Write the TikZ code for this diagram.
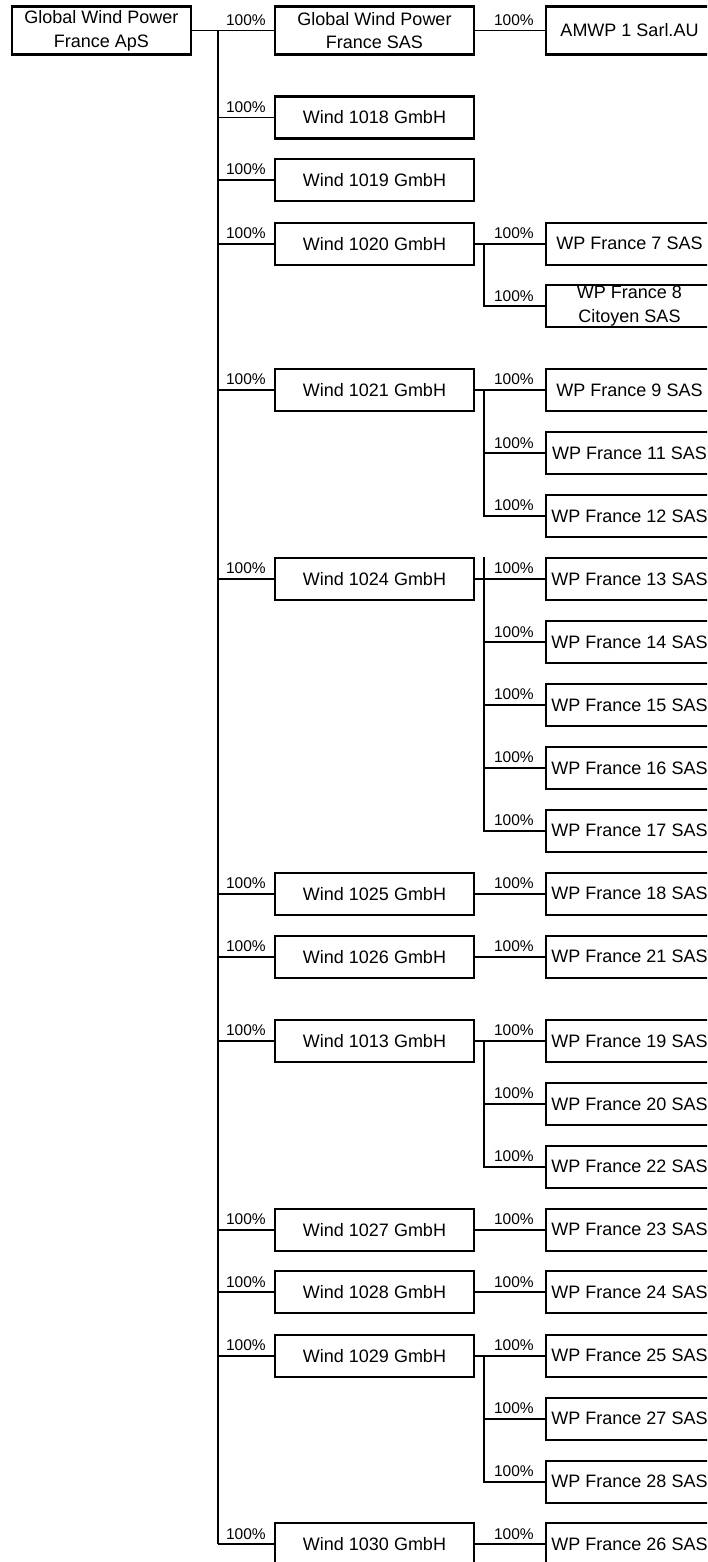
\documentclass[tikz,border=0pt]{standalone}
\usepackage{fontspec}
\setmainfont{Liberation Sans}
\begin{document}
\begin{tikzpicture}[x=1pt,y=-1pt,
  box/.style={draw, line width=2.2pt, minimum height=42pt, inner sep=0pt, align=center,
              font=\fontsize{18}{23.7}\selectfont},
  topbox/.style={box, minimum height=48pt},
  lone/.style={box, minimum width=199pt},
  ltwo/.style={box, minimum width=167pt},
  pct/.style={anchor=base, inner sep=0pt, font=\fontsize{15.5}{18}\selectfont},
  conn/.style={line width=1.9pt}]
\useasboundingbox (0,0) rectangle (707,1562);
\clip (0,0) rectangle (707,1562);

% ---------- boxes ----------
\node[topbox, minimum width=179pt] (root) at (101.3,30.5) {Global Wind Power\\France ApS};
\node[lone, topbox] (gwps) at (374.5,30.5) {Global Wind Power\\France SAS};
\node[ltwo, topbox] (amwp) at (629.5,30.5) {AMWP 1 Sarl.AU};

\node[lone] (w1018) at (374.5,117.5)  {Wind 1018 GmbH};
\node[lone] (w1019) at (374.5,180.3)  {Wind 1019 GmbH};
\node[lone] (w1020) at (374.5,243.7)  {Wind 1020 GmbH};
\node[lone] (w1021) at (374.5,390)    {Wind 1021 GmbH};
\node[lone] (w1024) at (374.5,579)    {Wind 1024 GmbH};
\node[lone] (w1025) at (374.5,893.7)  {Wind 1025 GmbH};
\node[lone] (w1026) at (374.5,956.7)  {Wind 1026 GmbH};
\node[lone] (w1013) at (374.5,1041)   {Wind 1013 GmbH};
\node[lone] (w1027) at (374.5,1229.7) {Wind 1027 GmbH};
\node[lone] (w1028) at (374.5,1292.3) {Wind 1028 GmbH};
\node[lone] (w1029) at (374.5,1355.7) {Wind 1029 GmbH};
\node[lone] (w1030) at (374.5,1544.3) {Wind 1030 GmbH};

\node[ltwo] (wp7)  at (629.5,243.7)  {WP France 7 SAS};
\node[ltwo] (wp8)  at (629.5,306.3)  {WP France 8\\Citoyen SAS};
\node[ltwo] (wp9)  at (629.5,390)    {WP France 9 SAS};
\node[ltwo] (wp11) at (629.5,453.3)  {WP France 11 SAS};
\node[ltwo] (wp12) at (629.5,516)    {WP France 12 SAS};
\node[ltwo] (wp13) at (629.5,579)    {WP France 13 SAS};
\node[ltwo] (wp14) at (629.5,642.3)  {WP France 14 SAS};
\node[ltwo] (wp15) at (629.5,705)    {WP France 15 SAS};
\node[ltwo] (wp16) at (629.5,768)    {WP France 16 SAS};
\node[ltwo] (wp17) at (629.5,830.7)  {WP France 17 SAS};
\node[ltwo] (wp18) at (629.5,893.7)  {WP France 18 SAS};
\node[ltwo] (wp21) at (629.5,956.7)  {WP France 21 SAS};
\node[ltwo] (wp19) at (629.5,1041)   {WP France 19 SAS};
\node[ltwo] (wp20) at (629.5,1104)   {WP France 20 SAS};
\node[ltwo] (wp22) at (629.5,1166.7) {WP France 22 SAS};
\node[ltwo] (wp23) at (629.5,1229.7) {WP France 23 SAS};
\node[ltwo] (wp24) at (629.5,1292.3) {WP France 24 SAS};
\node[ltwo] (wp25) at (629.5,1355.7) {WP France 25 SAS};
\node[ltwo] (wp27) at (629.5,1418.7) {WP France 27 SAS};
\node[ltwo] (wp28) at (629.5,1481.7) {WP France 28 SAS};
\node[ltwo] (wp26) at (629.5,1544.3) {WP France 26 SAS};

% ---------- trunk ----------
\coordinate (tr) at (218,0);
\coordinate (br) at (484,0);
\draw[conn] (root.east) -- (gwps.west);
\draw[conn] (root.east -| tr) -- (w1030.west -| tr);
\foreach \n in {w1018,w1019,w1020,w1021,w1024,w1025,w1026,w1013,w1027,w1028,w1029,w1030}{
  \draw[conn] (\n.west -| tr) -- (\n.west);
}
\foreach \n in {gwps,w1018,w1019,w1020,w1021,w1024,w1025,w1026,w1013,w1027,w1028,w1029,w1030}{
  \node[pct] at ([xshift=-28pt,yshift=5.3pt]\n.west) {100\%};
}

% ---------- single children ----------
\draw[conn] (gwps.east) -- (amwp.west);
\draw[conn] (w1025.east) -- (wp18.west);
\draw[conn] (w1026.east) -- (wp21.west);
\draw[conn] (w1027.east) -- (wp23.west);
\draw[conn] (w1028.east) -- (wp24.west);
\draw[conn] (w1030.east) -- (wp26.west);

% ---------- branched children ----------
\draw[conn] (w1020.east) -- (wp7.west);
\draw[conn] (w1020.east -| br) |- (wp8.west);

\draw[conn] (w1021.east) -- (wp9.west);
\draw[conn] (w1021.east -| br) |- (wp12.west);
\draw[conn] (wp11.west -| br) -- (wp11.west);

\draw[conn] (w1024.east) -- (wp13.west);
\draw[conn] (w1024.north -| br) |- (wp17.west);
\foreach \n in {wp14,wp15,wp16}{
  \draw[conn] (\n.west -| br) -- (\n.west);
}

\draw[conn] (w1013.east) -- (wp19.west);
\draw[conn] (w1013.east -| br) |- (wp22.west);
\draw[conn] (wp20.west -| br) -- (wp20.west);

\draw[conn] (w1029.east) -- (wp25.west);
\draw[conn] (w1029.east -| br) |- (wp28.west);
\draw[conn] (wp27.west -| br) -- (wp27.west);

\foreach \n in {amwp,wp7,wp8,wp9,wp11,wp12,wp13,wp14,wp15,wp16,wp17,wp18,wp21,wp19,wp20,wp22,wp23,wp24,wp25,wp27,wp28,wp26}{
  \node[pct] at ([xshift=-31pt,yshift=5.3pt]\n.west) {100\%};
}
\end{tikzpicture}
\end{document}
